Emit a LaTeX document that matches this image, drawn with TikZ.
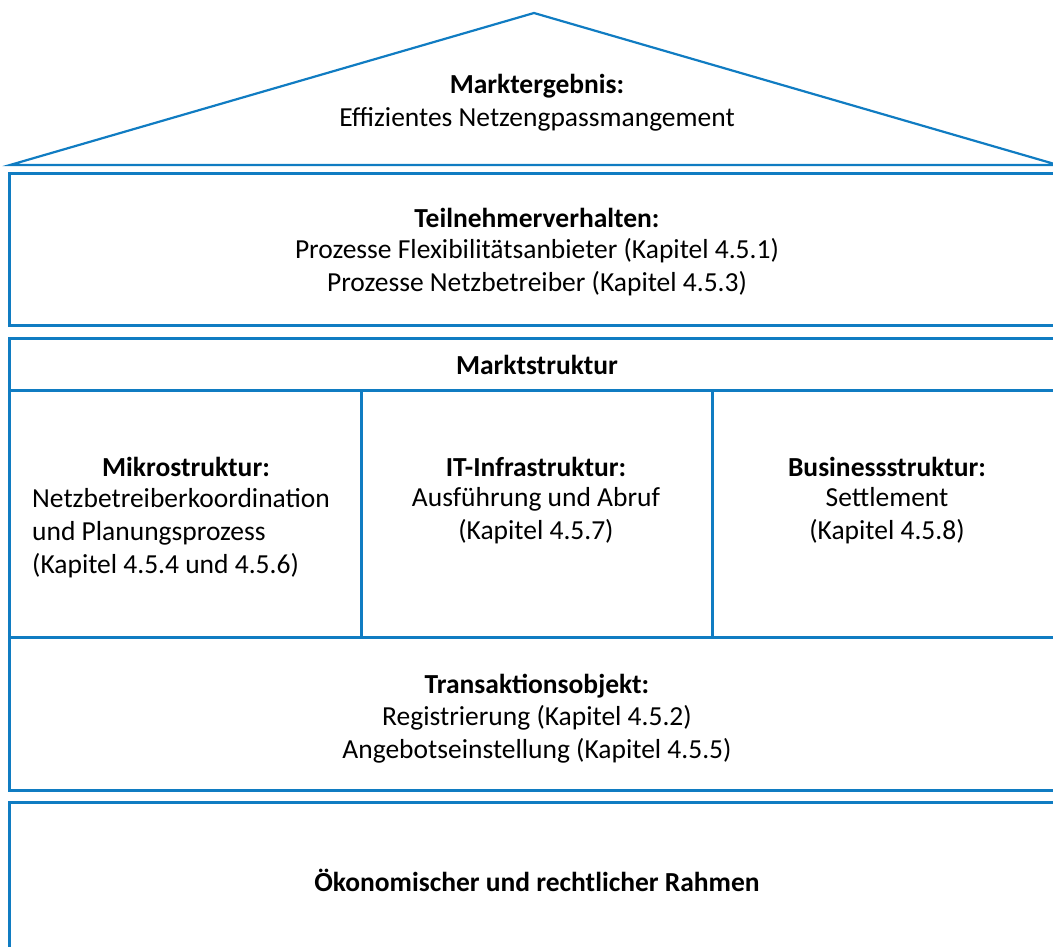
\documentclass[tikz,border=0pt]{standalone}
\usepackage{fontspec}
\setmainfont{Carlito}
\definecolor{houseblue}{RGB}{16,124,194}
\begin{document}
\begin{tikzpicture}[x=1pt,y=-1pt,
  frame/.style={draw=houseblue,line width=3pt},
  roof/.style={draw=houseblue,line width=2.2pt,line join=miter},
  txt/.style={font=\fontsize{27.5}{33}\selectfont,align=center,inner sep=0pt},
  ttl/.style={font=\fontsize{27.5}{33}\selectfont\bfseries,inner sep=0pt}]
\useasboundingbox (0,0) rectangle (1053,947);
\clip (0,0) rectangle (1053,947);
% roof
\draw[roof] (10,165) -- (534,13) -- (1058,165) -- cycle;
% storeys
\draw[frame] (9,174) rectangle (1064,325);
\draw[frame] (9,338) rectangle (1064,790);
\draw[frame] (9,390) -- (1064,390);
\draw[frame] (9,637) -- (1064,637);
\draw[frame] (361,390) -- (361,637);
\draw[frame] (712,390) -- (712,637);
\draw[frame] (9,802) rectangle (1064,1000);
% labels
\node[ttl] (res) at (537,86) {Marktergebnis:};
\node[txt] (resb) at (537,119) {Effizientes Netzengpassmangement};
\node[ttl] (beh) at (537,218) {Teilnehmerverhalten:};
\node[txt] (behb) at (537,267.5) {Prozesse Flexibilitätsanbieter (Kapitel 4.5.1)\\Prozesse Netzbetreiber (Kapitel 4.5.3)};
\node[ttl] (str) at (537,365) {Marktstruktur};
\node[ttl] (mik) at (186,467) {Mikrostruktur:};
\node[txt,align=left,anchor=west] (mikb) at (32,533) {Netzbetreiberkoordination\\und Planungsprozess\\(Kapitel 4.5.4 und 4.5.6)};
\node[ttl] (itf) at (536,467) {IT-Infrastruktur:};
\node[txt] (itfb) at (536,515.5) {Ausführung und Abruf\\(Kapitel 4.5.7)};
\node[ttl] (bus) at (887,467) {Businessstruktur:};
\node[txt] (busb) at (887,515.5) {Settlement\\(Kapitel 4.5.8)};
\node[ttl] (tra) at (537,686) {Transaktionsobjekt:};
\node[txt] (trab) at (537,734) {Registrierung (Kapitel 4.5.2)\\Angebotseinstellung (Kapitel 4.5.5)};
\node[ttl] (rah) at (537,880) {Ökonomischer und rechtlicher Rahmen};
\end{tikzpicture}
\end{document}
